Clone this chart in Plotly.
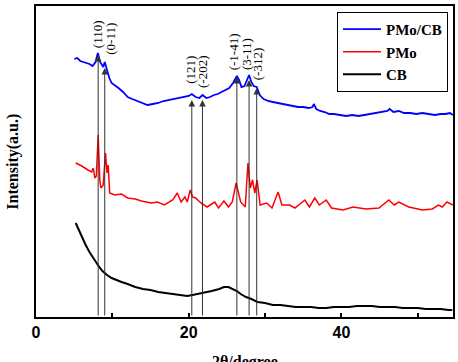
import plotly.graph_objects as go

# ---------------- data (2θ in degree, intensity in a.u.) ----------------
blue_x = [5.0, 5.4, 5.8, 6.2, 6.6, 7.0, 7.4, 7.8, 8.1, 8.4, 8.8, 9.0, 9.3, 9.6, 9.9, 10.3, 10.8, 11.4, 12.0, 12.6,
          13.3, 14.0, 14.6, 15.3, 16.0, 16.7, 17.4, 18.0, 18.7, 19.4, 20.0, 20.4, 20.9, 21.4, 21.8, 22.3, 22.8, 23.3, 23.8, 24.3,
          24.8, 25.3, 25.8, 26.3, 26.6, 26.9, 27.3, 27.6, 27.9, 28.2, 28.5, 28.9, 29.3, 29.8, 30.4, 31.0, 31.6, 32.2, 32.9, 33.6,
          34.3, 35.0, 35.7, 36.2, 36.4, 36.7, 37.2, 37.8, 38.4, 39.0, 39.8, 40.6, 41.4, 42.2, 43.0, 43.8, 44.6, 45.4, 46.0, 46.3,
          46.8, 47.5, 48.2, 49.0, 49.8, 50.6, 51.4, 52.2, 53.0, 53.6, 54.2, 54.6]
blue_y = [258, 259, 256, 255, 254, 253, 251, 255, 264, 255, 250, 255, 247, 239, 234, 232, 229, 225, 220, 218,
          216, 214, 212, 213, 214, 216, 217, 218, 219, 220, 221, 223, 220, 219, 222, 219, 220, 222, 223, 225,
          227, 229, 234, 241, 237, 230, 231, 237, 242, 235, 231, 230, 222, 218, 216, 215, 214, 213, 212, 211,
          210, 210, 209, 210, 213, 208, 206, 205, 203, 203, 202, 201, 202, 201, 202, 203, 204, 205, 206, 208,
          205, 206, 204, 204, 203, 204, 203, 202, 203, 203, 204, 202]

red_x = [5.2, 6.0, 6.8, 7.3, 7.5, 7.7, 7.9, 8.14, 8.35, 8.5, 8.8, 9.1, 9.3, 9.45, 9.65, 10.3, 11.2, 12.0, 13.0, 13.8,
         15.1, 15.9, 16.8, 17.9, 18.5, 19.0, 19.5, 19.8, 20.2, 20.5, 20.9, 21.6, 22.4, 23.4, 23.9, 24.6, 25.2, 25.7, 26.2, 26.8,
         27.4, 27.75, 28.05, 28.35, 28.65, 28.95, 29.35, 30.2, 30.9, 31.3, 31.7, 32.2, 33.2, 33.9, 35.2, 35.8, 36.5, 37.1, 38.0, 38.7,
         40.2, 41.5, 43.2, 44.9, 46.2, 46.9, 47.5, 48.8, 50.6, 51.9, 52.7, 53.2, 53.8, 54.6]
red_y = [154, 151, 147, 145, 149, 139, 141, 182, 137, 129, 132, 164, 144, 152, 124, 122, 123, 119, 118, 116,
         114, 115, 112, 117, 124, 115, 120, 115, 127, 120, 119, 114, 110, 115, 109, 116, 110, 115, 134, 115,
         110, 154, 129, 137, 124, 137, 112, 114, 109, 117, 125, 112, 112, 109, 117, 110, 119, 112, 117, 109,
         107, 110, 108, 109, 117, 112, 115, 110, 107, 108, 112, 110, 115, 112]

black_x = [5.2, 5.6, 6.0, 6.5, 7.0, 7.5, 8.1, 8.7, 9.3, 9.9, 10.5, 11.2, 12.0, 13.0, 14.0, 15.0, 16.0, 17.0, 18.0, 19.0,
           19.8, 20.5, 21.2, 22.0, 23.0, 24.0, 24.6, 25.2, 25.8, 26.3, 26.8, 27.5, 28.2, 29.0, 30.0, 31.0, 32.0, 33.0, 34.0, 35.0,
           36.0, 37.0, 38.0, 39.0, 40.0, 41.0, 42.0, 43.0, 44.0, 45.0, 46.0, 47.0, 48.0, 49.0, 50.0, 51.0, 52.0, 53.0, 54.0, 54.5]
black_y = [94, 87, 80, 72, 65, 59, 52, 46, 42, 39, 37, 35, 33, 30, 28, 27, 25, 24, 23, 22,
           21, 22, 23, 24, 26, 28, 30, 30, 28, 26, 23, 20, 18, 15, 14, 12, 12, 11, 10, 10,
           10, 9, 9, 10, 10, 10, 11, 11, 11, 10, 10, 10, 9, 9, 9, 8, 8, 8, 7, 7]

peak_pos = [8.14, 9.0, 20.4, 21.8, 26.3, 27.9, 28.9]
peak_tip = [262, 249, 217, 217, 240, 237, 229]
peak_hkl = ["(110)", "(0-11)", "(121)", "(-202)", "(-1-41)", "(3-11)", "(-312)"]
label_base = [267, 260, 231, 227, 245, 245, 235]

series_names = ["PMo/CB", "PMo", "CB"]
x_ticks = [0, 20, 40]

# ---------------- styling ----------------
label_shift = [-1, 5, -2, 0, -3, -3, 1]
series_colors = ["#0000ff", "#ff0000", "#000000"]
series_widths = [1.8, 1.5, 2]
SERIF = "Liberation Serif"
SANS = "Liberation Sans"

fig = go.Figure()
for xs, ys, nm, col, w in zip([blue_x, red_x, black_x], [blue_y, red_y, black_y],
                              series_names, series_colors, series_widths):
    fig.add_trace(go.Scatter(x=xs, y=ys, mode="lines", name=nm,
                             line=dict(color=col, width=w)))

annotations = []
for px, tip, hkl, base, sh in zip(peak_pos, peak_tip, peak_hkl, label_base, label_shift):
    annotations.append(dict(x=px, y=tip, ax=px, ay=0, xref="x", yref="y", axref="x", ayref="y",
                            text="", showarrow=True, arrowhead=2, arrowsize=1.3, arrowwidth=1,
                            arrowcolor="#333333", standoff=0, startstandoff=0))
    annotations.append(dict(x=px, y=base, xref="x", yref="y", text=hkl, showarrow=False,
                            textangle=-90, xanchor="center", yanchor="bottom", xshift=sh,
                            font=dict(family=SERIF, size=13, color="#000000")))

annotations.append(dict(x=-0.057, y=0.5, xref="paper", yref="paper", text="Intensity(a.u.)",
                        showarrow=False, textangle=-90, xanchor="center", yanchor="middle",
                        font=dict(family=SERIF, size=16, color="#000000", weight="bold")))
annotations.append(dict(x=0.5, y=-0.108, xref="paper", yref="paper", text="2θ/degree",
                        showarrow=False, xanchor="center", yanchor="top",
                        font=dict(family=SERIF, size=16, color="#000000", weight="bold")))

fig.update_layout(
    width=458, height=362,
    margin=dict(l=36, r=3, t=6, b=45),
    paper_bgcolor="white", plot_bgcolor="white",
    showlegend=True,
    legend=dict(x=0.988, y=0.981, xanchor="right", yanchor="top",
                bordercolor="#000000", borderwidth=1, bgcolor="white",
                font=dict(family=SERIF, size=15, color="#000000", weight="bold"),
                tracegroupgap=0, itemwidth=38),
    annotations=annotations,
    xaxis=dict(range=[0, 54.6], showgrid=False, zeroline=False,
               showline=True, linecolor="#000000", linewidth=2, mirror=True,
               ticks="inside", ticklen=4, tickwidth=2, tickcolor="#000000",
               tickvals=[0, 10, 20, 30, 40, 50],
               ticktext=[str(v) if v in x_ticks else "" for v in [0, 10, 20, 30, 40, 50]],
               tickfont=dict(family=SANS, size=16, color="#000000", weight="bold")),
    yaxis=dict(range=[0, 311], showgrid=False, zeroline=False,
               showline=True, linecolor="#000000", linewidth=2, mirror=True,
               showticklabels=False, ticks=""),
)

fig.write_html("out.html")
